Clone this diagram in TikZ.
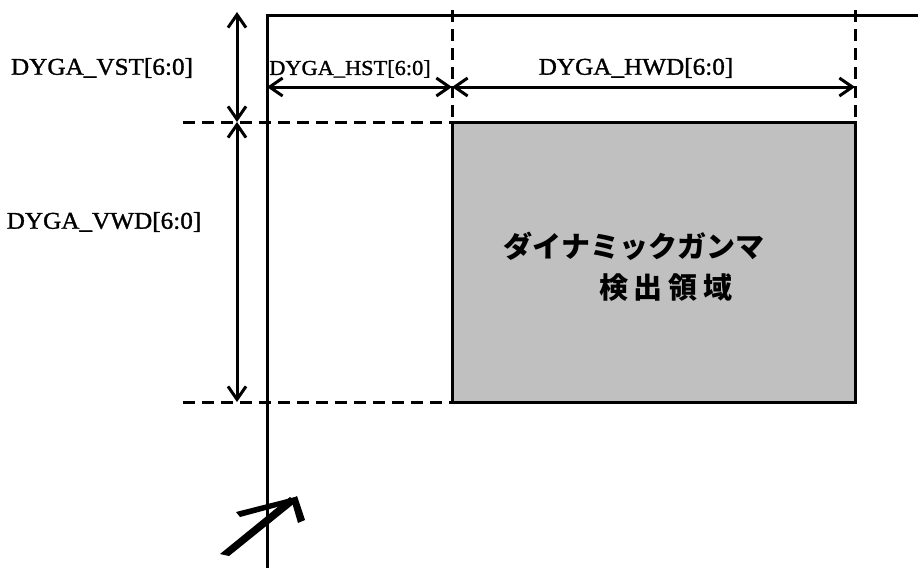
\documentclass[tikz,border=0pt]{standalone}
\usepackage{fontspec}
\setmainfont{Liberation Serif}[FakeStretch=1.05, FakeBold=1.3]
\newfontfamily\jpfont{Noto Sans CJK JP}
\usetikzlibrary{arrows.meta}
\tikzset{
  frame/.style={line width=3pt},
  guide/.style={line width=3pt, dash pattern=on 12pt off 7pt},
  dim/.style={line width=3pt, {Straight Barb[length=13pt,width=18pt]}-{Straight Barb[length=13pt,width=18pt]}},
  lbl/.style={font=\fontsize{24}{28}\selectfont, inner sep=0pt},
  lbls/.style={font=\fontsize{21.3}{25}\selectfont, inner sep=0pt},
  jp/.style={font=\jpfont\bfseries\fontsize{29}{34}\selectfont, inner sep=0pt},
  area/.style={fill={rgb,255:red,192;green,192;blue,192}, draw=black, line width=3pt, outer sep=0pt}
}
\begin{document}
\begin{tikzpicture}[x=1pt,y=-1pt]
\useasboundingbox (0,0) rectangle (918,568);
% key points
\coordinate (origin) at (267,15);
\coordinate (topright) at (918,15);
\coordinate (bottom) at (267,568);
\coordinate (hs) at (452,10);
\coordinate (he) at (855,10);
\coordinate (vtop) at (237,12);
\coordinate (vmid) at (237,122);
\coordinate (vbot) at (237,402);
\coordinate (g1) at (183,122);
\coordinate (g2) at (183,402);
\coordinate (a0) at (267,87);
\coordinate (a1) at (452,87);
\coordinate (a2) at (855,87);
% area
\node[area, minimum width=403pt, minimum height=280pt, anchor=north west] (box) at (452,122) {};
% frame
\draw[frame] (bottom) -- (origin) -- (topright);
% guides
\draw[guide] (hs) -- (box.north west);
\draw[guide] (he) -- (box.north east);
\draw[guide] (g1) -- (box.north west);
\draw[guide] (g2) -- (box.south west);
% dimension arrows
\draw[dim] (vtop) -- (vmid);
\draw[dim] (vmid) -- (vbot);
\draw[dim] (a0) -- (a1);
\draw[dim] (a1) -- (a2);
% labels
\node[lbl] (vst) at (102,68) {DYGA\_VST[6:0]};
\node[lbl] (vwd) at (104,222) {DYGA\_VWD[6:0]};
\node[lbls] (hst) at (350,69) {DYGA\_HST[6:0]};
\node[lbl] (hwd) at (636,68) {DYGA\_HWD[6:0]};
\node[jp] (t1) at (634,246) {ダイナミックガンマ};
\node[jp] (t2) at (666,288) {検\hspace{6pt}出\hspace{6pt}領\hspace{6pt}域};
% pointer arrow
\fill (220,554) -- (229,556) -- (296,502) -- (290,497) -- cycle;
\fill (236,512) -- (295,497) -- (292,503) -- (240,517) -- cycle;
\fill (291,499) -- (297,496) -- (305,520) -- (298,523) -- cycle;
\end{tikzpicture}
\end{document}
